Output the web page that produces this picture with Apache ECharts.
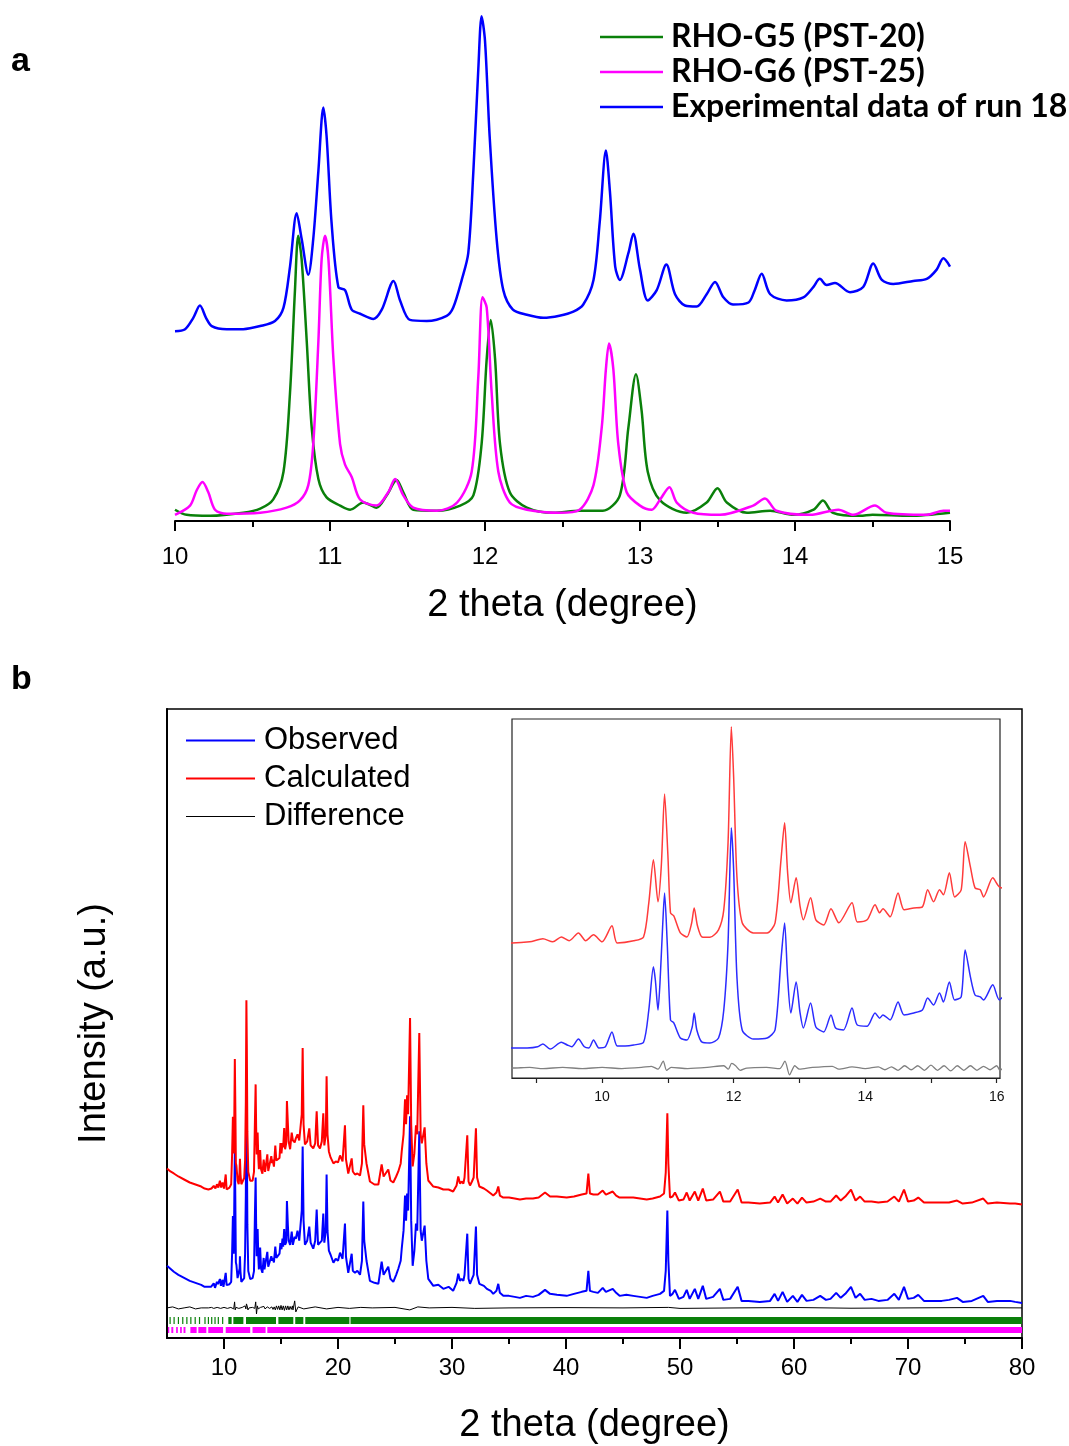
<!DOCTYPE html>
<html>
<head>
<meta charset="utf-8">
<script src="https://cdn.jsdelivr.net/npm/echarts@6/dist/echarts.min.js"></script>
<style>
  html, body { margin: 0; padding: 0; background: #fff; }
  #chart { width: 1069px; height: 1446px; }
</style>
</head>
<body>
<div id="chart"></div>
<script>
// ---------- (a) simulated patterns vs. experimental run 18, 2θ = 10–15° ----------
const rhoG5 = [
  [10.0,11],[10.075,6],[10.226,5],[10.44,8],[10.55,12],[10.634,21],[10.70,48],[10.742,125],[10.774,225],
  [10.795,278],[10.817,255],[10.85,175],[10.882,91],[10.925,41],[10.978,23],[11.065,15],[11.13,11],
  [11.215,18],[11.30,13],[11.366,25],[11.43,40],[11.473,28],[11.537,11],[11.69,10],[11.84,15],[11.925,25],
  [11.978,75],[12.011,158],[12.037,196],[12.065,158],[12.097,75],[12.16,28],[12.27,13],[12.44,8],[12.61,10],
  [12.76,10],[12.87,25],[12.925,91],[12.974,143],[13.01,108],[13.05,48],[13.13,20],[13.30,8],[13.43,18],
  [13.50,32],[13.56,18],[13.69,8],[13.84,10],[13.99,6],[14.12,11],[14.18,20],[14.245,8],[14.42,5],
  [14.50,6],[14.74,5],[15.0,8]
];
const rhoG6 = [
  [10.0,6],[10.097,15],[10.14,30],[10.177,38],[10.215,28],[10.258,11],[10.334,7],[10.55,8],[10.72,13],
  [10.806,20],[10.86,35],[10.892,75],[10.925,175],[10.946,255],[10.968,278],[10.99,255],[11.022,158],
  [11.065,75],[11.097,55],[11.14,43],[11.194,21],[11.30,15],[11.376,28],[11.42,41],[11.473,25],[11.537,13],
  [11.69,10],[11.82,18],[11.914,48],[11.957,141],[11.984,218],[12.011,208],[12.043,125],[12.086,48],
  [12.16,18],[12.27,11],[12.48,8],[12.61,11],[12.70,35],[12.753,91],[12.78,148],[12.80,173],[12.828,148],
  [12.86,75],[12.914,28],[13.0,15],[13.075,11],[13.13,21],[13.19,33],[13.237,18],[13.344,8],[13.516,6],
  [13.73,15],[13.806,22],[13.88,10],[14.097,6],[14.28,11],[14.376,6],[14.516,15],[14.59,8],[14.85,6],
  [14.957,10],[15.0,10]
];
const run18 = [
  [10.0,5],[10.065,7],[10.118,18],[10.161,30],[10.2,18],[10.237,10],[10.334,7],[10.44,7],[10.55,10],
  [10.645,15],[10.70,28],[10.742,68],[10.785,120],[10.817,95],[10.86,60],[10.892,95],[10.925,161],
  [10.957,223],[10.978,195],[11.01,111],[11.054,48],[11.097,45],[11.14,26],[11.194,22],[11.28,17],
  [11.334,26],[11.41,54],[11.452,35],[11.516,16],[11.624,15],[11.753,20],[11.795,28],[11.85,55],
  [11.892,81],[11.925,161],[11.957,261],[11.978,312],[12.0,288],[12.03,195],[12.075,95],[12.118,45],
  [12.18,26],[12.27,21],[12.376,18],[12.48,20],[12.57,24],[12.634,31],[12.70,55],[12.74,111],[12.78,181],
  [12.806,141],[12.84,68],[12.87,55],[12.925,81],[12.957,100],[13.0,65],[13.05,35],[13.108,45],[13.17,70],
  [13.226,41],[13.29,30],[13.366,29],[13.43,41],[13.484,53],[13.538,38],[13.60,31],[13.70,33],[13.74,45],
  [13.785,61],[13.84,41],[13.946,35],[14.054,38],[14.118,48],[14.16,56],[14.204,50],[14.258,52],
  [14.355,43],[14.44,48],[14.505,71],[14.56,55],[14.634,51],[14.763,54],[14.85,56],[14.914,65],
  [14.957,76],[15.0,68]
];
const tickLabelsA = [10, 11, 12, 13, 14, 15];

// ---------- (b) Rietveld refinement, 2θ = 5–80° ----------
const observed = [
  [5.0,75],[5.3,72],[5.6,69],[6.0,66],[6.5,63],[7.0,60],[7.5,58],[8.0,56],[8.3,54],[8.63,54],[8.86,54],
  [9.02,55],[9.10,57.5],[9.21,53],[9.38,59],[9.47,56.6],[9.54,55],[9.64,61.8],[9.73,55],[9.80,54],[9.87,61],
  [9.95,54],[10.05,55],[10.15,68],[10.23,55.7],[10.35,55.7],[10.48,56.6],[10.63,59],[10.71,87],[10.78,124.7],
  [10.81,113],[10.85,87],[10.88,110.7],[10.92,159.6],[10.95,189],[10.99,145.6],[11.04,78.4],[11.09,75.8],
  [11.19,62.7],[11.29,61],[11.37,72.3],[11.40,84.5],[11.44,69.7],[11.52,59],[11.64,58.3],[11.77,62.7],
  [11.85,87],[11.915,145.6],[11.965,246],[12.0,209.3],[12.05,116],[12.13,69.7],[12.30,61.8],[12.51,62.7],
  [12.63,69.7],[12.72,130.8],[12.775,163],[12.82,116],[12.87,84.5],[12.95,111.6],[13.01,84.5],[13.06,71.4],
  [13.17,93.2],[13.25,72.3],[13.37,68],[13.48,82.8],[13.55,71.4],[13.67,69.7],[13.80,88.9],[13.88,74],
  [14.03,73],[14.15,84.5],[14.22,80],[14.27,82.8],[14.38,78.4],[14.50,94.1],[14.59,82.8],[14.74,84.5],
  [14.87,87.1],[14.95,97.6],[15.04,91.5],[15.13,102],[15.19,94.1],[15.28,111.6],[15.36,95.9],[15.46,98.5],
  [15.52,139.5],[15.60,116],[15.67,100.2],[15.75,98.5],[15.80,95.9],[15.94,109],[16.04,95.9],[16.2,104],
  [16.3,102],[16.45,110],[16.6,100],[16.82,130],[16.9,194],[16.98,120],[17.1,96],[17.3,100],[17.48,114],
  [17.6,98],[17.83,92],[18.0,100],[18.13,131],[18.25,96],[18.42,95],[18.58,100],[18.71,127],[18.8,98],
  [18.93,110],[19.0,166],[19.08,110],[19.2,90],[19.35,86],[19.6,78],[19.8,82],[20.0,80],[20.18,88],[20.4,82],
  [20.61,117],[20.7,84],[20.9,68],[21.2,87],[21.3,70],[21.49,68],[21.7,70],[21.93,66],[22.1,80],[22.22,139],
  [22.3,100],[22.5,80],[22.8,60],[23.2,58],[23.54,57],[23.83,79],[24.0,66],[24.1,68],[24.41,74],[24.6,62],
  [24.85,59],[25.1,66],[25.29,72],[25.5,80],[25.59,92],[25.75,110],[25.88,145],[25.97,120],[26.06,147],
  [26.15,130],[26.32,224],[26.42,120],[26.55,75],[26.7,90],[26.84,117],[26.95,110],[27.13,209],[27.25,110],
  [27.35,100],[27.6,115],[27.75,80],[27.92,62],[28.36,55],[28.8,56],[29.24,52],[29.7,54],[30.1,50],[30.4,58],
  [30.55,67],[30.7,60],[30.84,62],[31.0,60],[31.1,66],[31.34,107],[31.45,62],[31.58,57],[31.75,62],[31.9,66],
  [32.1,114],[32.2,66],[32.4,57],[32.8,55],[33.06,52],[33.4,50],[33.62,47],[33.9,50],[34.06,57],[34.2,48],
  [34.5,45],[35.0,45],[35.5,44],[35.96,43],[36.5,45],[37.1,44],[37.6,46],[38.16,51],[38.6,47],[39.2,46],
  [40.06,45],[40.7,47],[41.38,49],[41.8,50],[41.96,70],[42.1,50],[42.4,49],[42.8,48],[43.22,53],[43.5,49],
  [44.1,52],[44.4,48],[44.7,45],[45.3,46],[45.9,45],[46.5,44],[47.08,43],[47.6,45],[48.25,47],[48.6,50],
  [48.75,70],[48.89,130],[48.98,80],[49.12,45],[49.35,47],[49.56,51],[49.9,42],[50.3,44],[50.59,51],
  [50.85,42],[51.3,52],[51.6,42],[52.0,55],[52.3,42],[52.9,44],[53.5,52],[53.8,41],[54.4,42],[55.06,54],
  [55.4,40],[56.0,40],[57.0,39],[57.9,40],[58.3,47],[58.6,40],[59.0,49],[59.4,39],[59.9,45],[60.3,39],
  [60.7,46],[61.1,40],[61.7,41],[62.3,45],[62.8,41],[63.2,42],[63.7,48],[64.1,43],[64.5,47],[65.0,54],
  [65.4,43],[65.8,47],[66.2,41],[66.8,42],[67.4,40],[68.2,41],[68.8,47],[69.2,41],[69.65,54],[70.0,42],
  [70.5,43],[70.9,46],[71.4,40],[72.3,40],[72.96,40],[73.6,41],[74.3,43],[74.8,39],[75.6,40],[76.6,45],
  [77.0,39],[77.8,40],[78.95,40],[79.4,39],[80.0,38]
];
const calculated = [
  [5.0,74],[5.3,71],[5.6,69],[6.0,66],[6.5,63],[7.0,60],[7.5,58],[8.0,56],[8.3,54],[8.63,53],[8.9,54],
  [9.10,56.6],[9.25,54],[9.38,58.3],[9.5,55],[9.64,61.8],[9.75,55],[9.87,60.1],[10.0,54],[10.15,68],[10.23,53],
  [10.48,54.9],[10.63,58.3],[10.71,88],[10.78,125.5],[10.85,88.9],[10.9,120],[10.95,183],[11.0,130],
  [11.04,79.3],[11.09,76.7],[11.19,61.8],[11.29,58.3],[11.36,70],[11.40,83.6],[11.45,68],[11.52,58.3],
  [11.64,58],[11.77,64.5],[11.85,81.9],[11.915,140.4],[11.965,241.6],[12.0,198],[12.05,110.7],[12.13,70.6],
  [12.30,61.8],[12.51,61.8],[12.63,70.6],[12.72,125.5],[12.775,157.8],[12.82,115],[12.87,88],[12.95,109.8],
  [13.01,85],[13.06,73.2],[13.17,92.4],[13.25,73.2],[13.37,68.8],[13.48,82.8],[13.60,70.6],[13.80,88],
  [13.88,71.4],[14.03,73.2],[14.15,86.3],[14.22,79.3],[14.27,82.8],[14.38,75.8],[14.50,96.7],[14.59,82],
  [14.74,83.6],[14.87,84.5],[14.95,99.4],[15.04,88.9],[15.13,99.4],[15.19,95],[15.28,114.2],[15.36,93.2],
  [15.46,99.4],[15.52,141.2],[15.60,119.4],[15.67,101.1],[15.75,99.4],[15.80,93.2],[15.94,109.8],[16.04,102],
  [16.2,100],[16.3,104],[16.45,108],[16.6,102],[16.82,128],[16.9,194],[16.98,118],[17.1,98],[17.3,101],
  [17.48,114],[17.6,97],[17.83,94],[18.0,99],[18.13,131],[18.25,97],[18.42,94],[18.58,101],[18.71,129],
  [18.8,97],[18.93,108],[19.0,166],[19.08,108],[19.2,91],[19.35,85],[19.6,79],[19.8,81],[20.0,80],[20.18,87],
  [20.4,81],[20.61,117],[20.7,83],[20.9,69],[21.2,84],[21.3,71],[21.49,68],[21.7,69],[21.93,67],[22.1,79],
  [22.22,137],[22.3,98],[22.5,79],[22.8,61],[23.2,58],[23.54,58],[23.83,78],[24.0,66],[24.1,67],[24.41,73],
  [24.6,62],[24.85,60],[25.1,66],[25.29,71],[25.5,79],[25.59,91],[25.75,108],[25.88,143],[25.97,118],
  [26.06,147],[26.15,128],[26.32,224],[26.42,118],[26.55,76],[26.7,89],[26.84,117],[26.95,108],[27.13,209],
  [27.25,108],[27.35,99],[27.6,115],[27.75,79],[27.92,62],[28.36,56],[28.8,55],[29.24,53],[29.7,53],
  [30.1,51],[30.4,57],[30.55,66],[30.7,59],[30.84,61],[31.0,59],[31.1,65],[31.34,107],[31.45,61],[31.58,57],
  [31.75,61],[31.9,65],[32.1,114],[32.2,65],[32.4,56],[32.8,54],[33.06,52],[33.4,49],[33.62,47],[33.9,50],
  [34.06,56],[34.2,47],[34.5,45],[35.0,45],[35.5,44],[35.96,43],[36.5,44],[37.1,44],[37.6,45],[38.16,50],
  [38.6,46],[39.2,46],[40.06,45],[40.7,46],[41.38,48],[41.8,49],[41.96,69],[42.1,49],[42.4,48],[42.8,48],
  [43.22,52],[43.5,48],[44.1,51],[44.4,47],[44.7,45],[45.3,45],[45.9,45],[46.5,44],[47.08,43],[47.6,44],
  [48.25,46],[48.6,49],[48.75,70],[48.89,129],[48.98,79],[49.12,45],[49.35,46],[49.56,50],[49.9,42],
  [50.3,43],[50.59,50],[50.85,42],[51.3,51],[51.6,42],[52.0,54],[52.3,42],[52.9,43],[53.5,51],[53.8,41],
  [54.4,41],[55.06,53],[55.4,40],[56.0,40],[57.0,39],[57.9,40],[58.3,46],[58.6,40],[59.0,48],[59.4,39],
  [59.9,44],[60.3,39],[60.7,45],[61.1,40],[61.7,41],[62.3,44],[62.8,41],[63.2,41],[63.7,47],[64.1,42],
  [64.5,46],[65.0,53],[65.4,42],[65.8,46],[66.2,41],[66.8,41],[67.4,40],[68.2,41],[68.8,46],[69.2,41],
  [69.65,53],[70.0,41],[70.5,42],[70.9,45],[71.4,40],[72.3,40],[72.96,40],[73.6,40],[74.3,42],[74.8,39],
  [75.6,40],[76.6,44],[77.0,39],[77.8,40],[78.95,39],[79.4,39],[80.0,38]
];
const difference = [
  [5,0],[5.5,1],[6,-1],[6.5,0],[7,1],[7.5,-1],[8,0],[8.63,0],[8.9,0.5],[9.1,-0.5],[9.4,0.5],[9.7,-0.5],
  [10.0,0.5],[10.3,-0.5],[10.6,0.5],[10.75,1.5],[10.85,-1],[10.93,6],[10.98,-2],[11.05,0.5],[11.3,-0.5],
  [11.6,0.5],[11.85,2],[11.92,-1],[11.97,4],[12.03,2],[12.1,-2],[12.2,0],[12.5,0.5],[12.7,-0.5],[12.78,6],
  [12.85,-6],[12.93,2],[13.0,-1],[13.2,0.5],[13.5,1.5],[13.6,-1],[13.8,1],[14.0,-0.5],[14.2,1],[14.3,-1.5],
  [14.4,1],[14.5,-2],[14.6,2],[14.7,-1.5],[14.8,2],[14.9,-2],[15.0,2.5],[15.1,-2],[15.2,2],[15.3,-2.5],
  [15.4,2],[15.5,-2],[15.6,2],[15.7,-2],[15.8,1.5],[15.9,-1.5],[16.0,2],[16.05,-2],[16.2,7],[16.3,-4],
  [16.5,1],[17,-1],[18,1],[19,-1],[20,0.5],[21,-0.5],[22,0.5],[23,0],[25,0.5],[26.3,-2],[27,1],[28,0],
  [30,0.5],[32,-0.5],[35,0],[40,0.3],[45,0],[49,0.5],[50,-0.5],[55,0],[60,0.4],[65,-0.3],[70,0],[75,0.3],[80,0]
];
// Bragg reflection positions, shown as [start, end] bands of 2θ
const reflG5 = [
  [5.22,5.30],[5.57,5.65],[5.95,6.03],[6.33,6.41],[6.69,6.77],[7.04,7.12],[7.42,7.50],[7.80,7.88],
  [8.28,8.38],[8.58,8.68],[8.87,8.97],[9.16,9.26],[9.45,9.55],[9.83,9.93],[10.38,10.67],[10.82,11.70],
  [11.93,14.56],[14.77,16.08],[16.25,16.96],[17.13,21.0],[21.1,80]
];
const reflG6 = [
  [5.08,5.20],[5.38,5.55],[5.80,5.95],[6.15,6.30],[6.45,6.62],[7.05,7.60],[7.75,8.45],[8.62,9.92],
  [10.15,12.30],[12.50,13.65],[13.80,80]
];
const tickLabelsB = [10, 20, 30, 40, 50, 60, 70, 80];
const minorTicksB = [15, 25, 35, 45, 55, 65, 75];
const tickLabelsInset = [10, 12, 14, 16];
const ticksInset = [9, 10, 11, 12, 13, 14, 15, 16];

// vertical stacking offsets used for display only
const OFFSET_RUN18 = 180;
const OFFSET_CALC = 98, OFFSET_DIFF = 33;
const INSET_CALC = 92.5, INSET_DIFF = 36.5;
const shift = (arr, d) => arr.map(p => [p[0], p[1] + d]);

const AX = 'Liberation Sans, Arial, sans-serif';

// one row of reflection markers, placed a fixed pixel distance above the plot floor
function reflRow(topPx, heightPx) {
  return function (params, api) {
    const cs = params.coordSys;
    const floor = cs.y + cs.height;
    const a = api.coord([api.value(0), 0]);
    const b = api.coord([api.value(1), 0]);
    return {
      type: 'rect',
      shape: { x: a[0], y: floor - topPx, width: Math.max(b[0] - a[0], 1.2), height: heightPx },
      style: { fill: api.visual('color') }
    };
  };
}

const legendBText = { fontFamily: AX, fontSize: 31, lineHeight: 31, color: '#000', padding: [0, 0, 0, 4] };

const chart = echarts.init(document.getElementById('chart'), null, { renderer: 'canvas' });
chart.setOption({
  animation: false,
  backgroundColor: '#fff',
  graphic: [
    { type: 'text', left: 11, top: 45, style: { text: 'a', fontSize: 34, fontWeight: 'bold', fontFamily: AX, fill: '#000' } },
    { type: 'text', left: 11, top: 663, style: { text: 'b', fontSize: 34, fontWeight: 'bold', fontFamily: AX, fill: '#000' } }
  ],
  legend: [
    {
      orient: 'vertical', left: 600, top: 21, padding: 0, icon: 'rect', itemWidth: 63, itemHeight: 2.5, itemGap: 3,
      data: ['RHO-G5 (PST-20)', 'RHO-G6 (PST-25)', 'Experimental data of run 18'],
      textStyle: { fontFamily: 'Lato', fontWeight: 'bold', fontSize: 32, lineHeight: 31, color: '#000', padding: [0, 0, 0, 3] }
    },
    {
      orient: 'vertical', left: 186, top: 725, padding: 0, icon: 'rect', itemWidth: 69, itemHeight: 2, itemGap: 7,
      data: ['Observed', 'Calculated'], textStyle: legendBText
    },
    {
      orient: 'vertical', left: 186, top: 801, padding: 0, icon: 'rect', itemWidth: 69, itemHeight: 1,
      data: ['Difference'], textStyle: legendBText
    }
  ],
  grid: [
    { left: 175, top: 8, width: 775, height: 513 },
    { left: 167, top: 709, width: 855, height: 633, show: true, borderColor: '#000', borderWidth: 1.5, backgroundColor: 'transparent' },
    { left: 512, top: 719, width: 488, height: 359, show: true, borderColor: '#222', borderWidth: 1.2, backgroundColor: '#fff' }
  ],
  xAxis: [
    {
      gridIndex: 0, type: 'value', min: 10, max: 15, interval: 1,
      axisLine: { lineStyle: { color: '#000', width: 2 } },
      axisTick: { length: 10, lineStyle: { color: '#000', width: 2 } },
      minorTick: { show: true, splitNumber: 2, length: 6, lineStyle: { color: '#000', width: 2 } },
      splitLine: { show: false },
      axisLabel: { margin: 24, fontSize: 24, color: '#000', fontFamily: AX, customValues: tickLabelsA },
      name: '2 theta (degree)', nameLocation: 'middle', nameGap: 66,
      nameTextStyle: { fontSize: 38, color: '#000', fontFamily: AX }
    },
    {
      gridIndex: 1, type: 'value', min: 5, max: 80, position: 'bottom',
      axisLine: { lineStyle: { color: '#000', width: 2 } },
      axisTick: { length: 11, customValues: tickLabelsB, lineStyle: { color: '#000', width: 2 } },
      splitLine: { show: false },
      axisLabel: { margin: 18, fontSize: 24, color: '#000', fontFamily: AX, customValues: tickLabelsB },
      name: '2 theta (degree)', nameLocation: 'middle', nameGap: 69,
      nameTextStyle: { fontSize: 38, color: '#000', fontFamily: AX }
    },
    {
      gridIndex: 1, type: 'value', min: 5, max: 80, position: 'bottom',
      axisLine: { show: false },
      axisTick: { length: 6, customValues: minorTicksB, lineStyle: { color: '#000', width: 2 } },
      splitLine: { show: false },
      axisLabel: { show: false }
    },
    {
      gridIndex: 2, type: 'value', min: 8.63, max: 16.05, position: 'bottom',
      axisLine: { lineStyle: { color: '#222', width: 1.2 } },
      axisTick: { length: 5, customValues: ticksInset, lineStyle: { color: '#222', width: 1.2 } },
      splitLine: { show: false },
      axisLabel: { margin: 12, fontSize: 14, color: '#111', fontFamily: AX, customValues: tickLabelsInset }
    }
  ],
  yAxis: [
    { gridIndex: 0, type: 'value', min: 0, max: 500, show: false },
    {
      gridIndex: 1, type: 'value', min: 3, max: 630,
      axisLine: { show: true, lineStyle: { color: '#000', width: 2 } },
      axisTick: { show: false }, axisLabel: { show: false }, splitLine: { show: false },
      name: 'Intensity (a.u.)', nameLocation: 'middle', nameRotate: 90, nameGap: 53,
      nameTextStyle: { fontSize: 38, color: '#000', fontFamily: AX }
    },
    { gridIndex: 2, type: 'value', min: 27.8, max: 340.8, show: false }
  ],
  series: [
    // (a)
    { name: 'RHO-G5 (PST-20)', type: 'line', xAxisIndex: 0, yAxisIndex: 0, data: rhoG5, symbol: 'none',
      smooth: 0.3, color: '#0a800a', lineStyle: { width: 2.5, color: '#0a800a' } },
    { name: 'RHO-G6 (PST-25)', type: 'line', xAxisIndex: 0, yAxisIndex: 0, data: rhoG6, symbol: 'none',
      smooth: 0.3, color: '#ff00ff', lineStyle: { width: 2.5, color: '#ff00ff' } },
    { name: 'Experimental data of run 18', type: 'line', xAxisIndex: 0, yAxisIndex: 0, data: shift(run18, OFFSET_RUN18),
      symbol: 'none', smooth: 0.3, color: '#0000ff', lineStyle: { width: 2.5, color: '#0000ff' } },
    // (b) full range
    { name: 'Observed', type: 'line', xAxisIndex: 1, yAxisIndex: 1, data: observed, symbol: 'none',
      color: '#0000ff', lineStyle: { width: 2, color: '#0000ff' } },
    { name: 'Calculated', type: 'line', xAxisIndex: 1, yAxisIndex: 1, data: shift(calculated, OFFSET_CALC), symbol: 'none',
      color: '#ff0000', lineStyle: { width: 2, color: '#ff0000' } },
    { name: 'Difference', type: 'line', xAxisIndex: 1, yAxisIndex: 1, data: shift(difference, OFFSET_DIFF), symbol: 'none',
      color: '#000000', lineStyle: { width: 1, color: '#000000' } },
    { name: 'RHO-G5 reflections', type: 'custom', xAxisIndex: 1, yAxisIndex: 1, data: reflG5,
      encode: { x: [0, 1] }, color: '#0a800a', renderItem: reflRow(21, 7) },
    { name: 'RHO-G6 reflections', type: 'custom', xAxisIndex: 1, yAxisIndex: 1, data: reflG6,
      encode: { x: [0, 1] }, color: '#ff00ff', renderItem: reflRow(11, 6) },
    // (b) inset, 2θ ≈ 8.6–16°
    { name: 'Observed', type: 'line', xAxisIndex: 3, yAxisIndex: 2, data: observed, symbol: 'none',
      smooth: 0.25, lineStyle: { width: 1.5, color: '#2b2bff' }, itemStyle: { color: '#2b2bff' } },
    { name: 'Calculated', type: 'line', xAxisIndex: 3, yAxisIndex: 2, data: shift(calculated, INSET_CALC), symbol: 'none',
      smooth: 0.25, lineStyle: { width: 1.5, color: '#ff3b3b' }, itemStyle: { color: '#ff3b3b' } },
    { name: 'Difference', type: 'line', xAxisIndex: 3, yAxisIndex: 2, data: shift(difference, INSET_DIFF), symbol: 'none',
      smooth: 0.25, lineStyle: { width: 1.3, color: '#808080' }, itemStyle: { color: '#808080' } }
  ]
});
</script>
</body>
</html>
